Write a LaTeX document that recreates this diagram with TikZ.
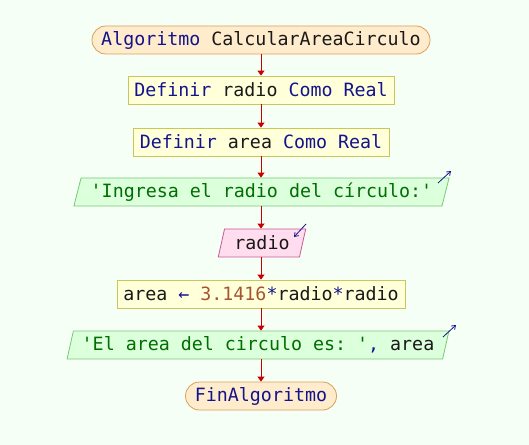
\documentclass[tikz,border=0pt]{standalone}
\usepackage{fontspec}
\setmonofont{DejaVu Sans Mono}
\usetikzlibrary{shapes.geometric,arrows.meta}
\definecolor{bgc}{RGB}{246,255,246}
\definecolor{tfill}{RGB}{255,236,204}
\definecolor{tdraw}{RGB}{218,160,90}
\definecolor{pfill}{RGB}{255,255,218}
\definecolor{pdraw}{RGB}{200,200,90}
\definecolor{ofill}{RGB}{220,255,220}
\definecolor{odraw}{RGB}{120,200,120}
\definecolor{ifill}{RGB}{255,220,238}
\definecolor{idraw}{RGB}{200,90,150}
\definecolor{arr}{RGB}{200,0,0}
\definecolor{kwc}{RGB}{20,20,140}
\definecolor{stc}{RGB}{0,110,0}
\definecolor{nmc}{RGB}{165,85,50}
\definecolor{idc}{RGB}{25,25,25}
\newcommand{\kwd}[1]{\textcolor{kwc}{#1}}
\newcommand{\strg}[1]{\textcolor{stc}{#1}}
\newcommand{\numb}[1]{\textcolor{nmc}{#1}}
\newcommand{\idn}[1]{\textcolor{idc}{#1}}
\tikzset{
  base/.style={font=\ttfamily\fontsize{18.3bp}{22bp}\selectfont, inner sep=0pt, minimum height=28bp, line width=0.8bp, text=idc},
  term/.style={base, fill=tfill, draw=tdraw, rounded corners=14bp},
  proc/.style={base, fill=pfill, draw=pdraw},
  outp/.style={base, fill=ofill, draw=odraw, trapezium, trapezium left angle=70, trapezium right angle=110, trapezium stretches=true},
  inp/.style={base, fill=ifill, draw=idraw, trapezium, trapezium left angle=72, trapezium right angle=108, trapezium stretches=true},
  flow/.style={draw=arr, line width=0.9bp, -{Triangle[width=7bp,length=5bp]}},
  io/.style={draw=kwc, line width=0.8bp, -{Straight Barb[width=5bp,length=3.5bp]}}
}
\begin{document}
\begin{tikzpicture}[x=1bp,y=-1bp]
\fill[bgc] (0,0) rectangle (529,445);
\useasboundingbox (0,0) rectangle (529,445);
\node[term, minimum width=338bp] (start) at (261,40) {\kwd{Algoritmo} \idn{CalcularAreaCirculo}};
\node[proc, minimum width=266bp] (d1) at (261,90) {\kwd{Definir} \idn{radio} \kwd{Como Real}};
\node[proc, minimum width=256bp] (d2) at (261,142) {\kwd{Definir} \idn{area} \kwd{Como Real}};
\node[outp, minimum width=377bp] (o1) at (261.5,192) {\strg{'Ingresa el radio del círculo:'}};
\node[inp, minimum width=88bp] (r) at (262,243) {\idn{radio}};
\node[proc, minimum width=288bp] (a) at (261,294) {\idn{area} \kwd{←} \numb{3.1416}\kwd{*}\idn{radio}\kwd{*}\idn{radio}};
\node[outp, minimum width=382bp] (o2) at (258,345) {\strg{'El area del circulo es: '}\kwd{,} \idn{area}};
\node[term, minimum width=151bp] (fin) at (261,396) {\kwd{FinAlgoritmo}};
\draw[flow] (start.south) -- (d1.north);
\draw[flow] (d1.south) -- (d2.north);
\draw[flow] (d2.south) -- (d2.south |- o1.north);
\draw[flow] (d2.south |- o1.south) -- (d2.south |- r.north);
\draw[flow] (d2.south |- r.south) -- (a.north);
\draw[flow] (a.south) -- (a.south |- o2.north);
\draw[flow] (a.south |- o2.south) -- (fin.north);
\draw[io] (438,183) -- (451,171);
\draw[io] (306,224) -- (294,237);
\draw[io] (443,337) -- (456,325);
\end{tikzpicture}
\end{document}
